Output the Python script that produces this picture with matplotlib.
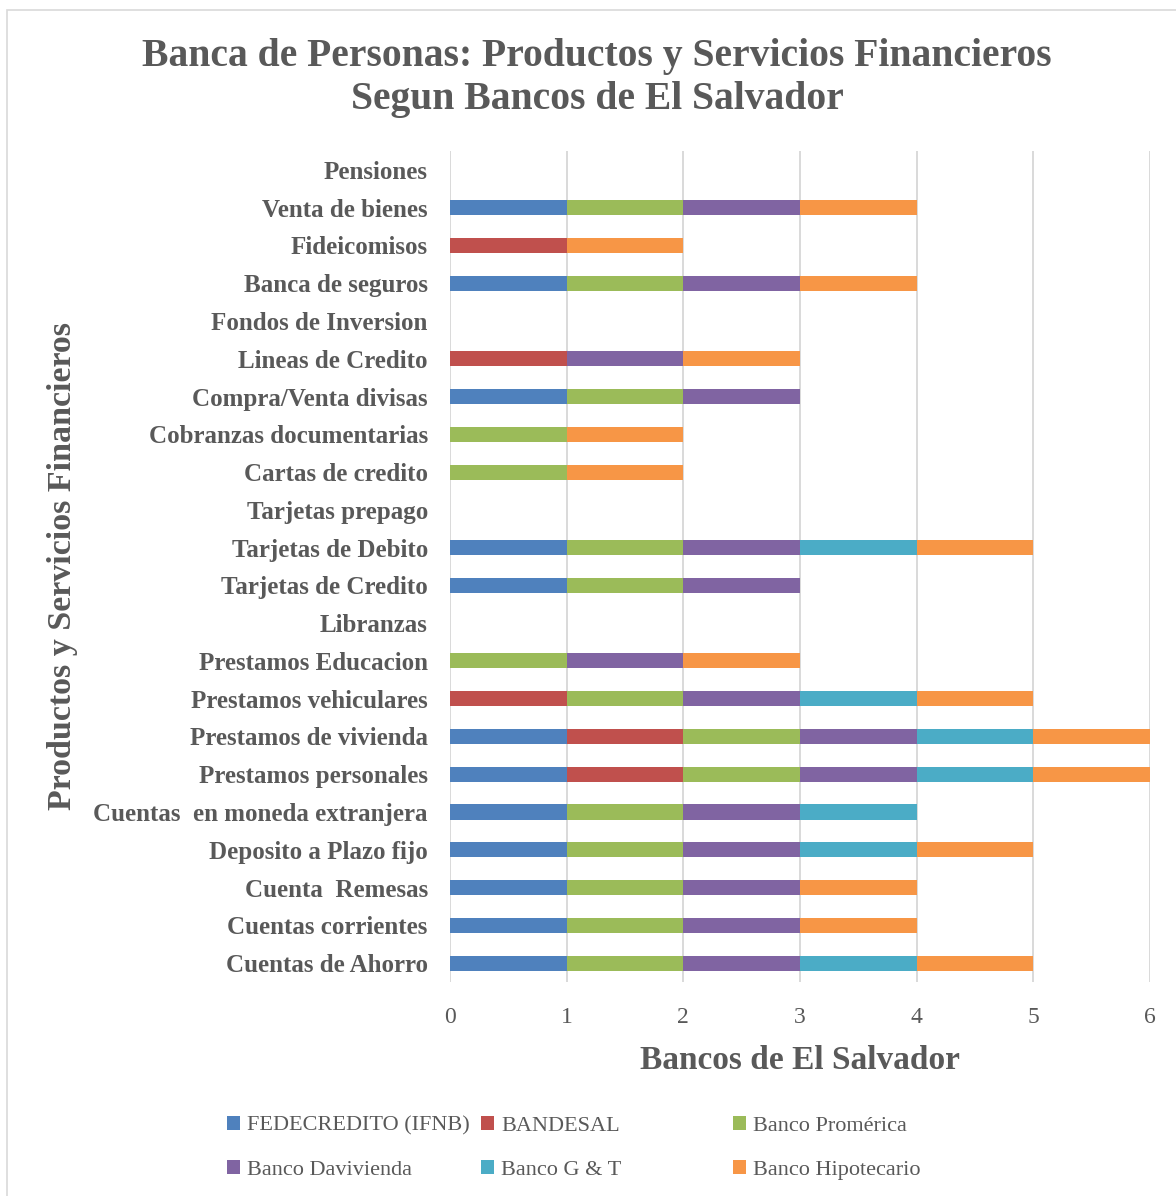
import matplotlib
matplotlib.use("Agg")
import matplotlib.pyplot as plt
from matplotlib.patches import Patch, Rectangle
import numpy as np

plt.rcParams['font.family'] = ['Liberation Serif', 'DejaVu Serif']

categories = [
    "Cuentas de Ahorro", "Cuentas corrientes", "Cuenta  Remesas",
    "Deposito a Plazo fijo", "Cuentas  en moneda extranjera",
    "Prestamos personales", "Prestamos de vivienda", "Prestamos vehiculares",
    "Prestamos Educacion", "Libranzas", "Tarjetas de Credito",
    "Tarjetas de Debito", "Tarjetas prepago", "Cartas de credito",
    "Cobranzas documentarias", "Compra/Venta divisas", "Lineas de Credito",
    "Fondos de Inversion", "Banca de seguros", "Fideicomisos",
    "Venta de bienes", "Pensiones",
]

series_names = ["FEDECREDITO (IFNB)", "BANDESAL", "Banco Promérica",
                "Banco Davivienda", "Banco G & T", "Banco Hipotecario"]
colors = ["#4F81BD", "#C0504D", "#9BBB59", "#8064A2", "#4BACC6", "#F79646"]

fedecredito = [1, 1, 1, 1, 1, 1, 1, 0, 0, 0, 1, 1, 0, 0, 0, 1, 0, 0, 1, 0, 1, 0]
bandesal    = [0, 0, 0, 0, 0, 1, 1, 1, 0, 0, 0, 0, 0, 0, 0, 0, 1, 0, 0, 1, 0, 0]
promerica   = [1, 1, 1, 1, 1, 1, 1, 1, 1, 0, 1, 1, 0, 1, 1, 1, 0, 0, 1, 0, 1, 0]
davivienda  = [1, 1, 1, 1, 1, 1, 1, 1, 1, 0, 1, 1, 0, 0, 0, 1, 1, 0, 1, 0, 1, 0]
gyt         = [1, 0, 0, 1, 1, 1, 1, 1, 0, 0, 0, 1, 0, 0, 0, 0, 0, 0, 0, 0, 0, 0]
hipotecario = [1, 1, 1, 1, 0, 1, 1, 1, 1, 0, 0, 1, 0, 1, 1, 0, 1, 0, 1, 1, 1, 0]

series = [fedecredito, bandesal, promerica, davivienda, gyt, hipotecario]

TXT = "#595959"
W, H = 1176, 1196
fig = plt.figure(figsize=(W / 100, H / 100), dpi=100)

# chart border (top/left visible)
fig.add_artist(Rectangle((7 / W, -0.05), 1.2, 1 - 10 / H + 0.05,
                         transform=fig.transFigure, fill=False,
                         edgecolor="#D9D9D9", linewidth=1.2))

ax = fig.add_axes([450 / W, 1 - 982 / H, 700 / W, 831 / H])
y = np.arange(len(categories))
left = np.zeros(len(categories))
for name, vals, c in zip(series_names, series, colors):
    v = np.array(vals, dtype=float)
    ax.barh(y, v, left=left, height=0.4, color=c, label=name, zorder=3)
    left += v

ax.set_xlim(0, 6)
ax.set_ylim(-0.5, len(categories) - 0.5)
ax.set_xticks(range(0, 7))
ax.set_yticks(y)
ax.set_yticklabels(categories, fontsize=18, fontweight="bold", color=TXT)
ax.tick_params(axis="x", length=0, pad=18, labelsize=17, labelcolor=TXT)
ax.tick_params(axis="y", length=0, pad=16)
for s in ax.spines.values():
    s.set_visible(False)
ax.grid(axis="x", color="#D9D9D9", linewidth=1.4, zorder=0)
ax.set_axisbelow(True)

ax.set_xlabel("Bancos de El Salvador", fontsize=24, fontweight="bold",
              color=TXT, labelpad=12)
fig.text(63 / W, 1 - 566 / H, "Productos y Servicios Financieros",
         rotation=90, ha="center", va="center", fontsize=24.5,
         fontweight="bold", color=TXT)

fig.text(597 / W, 1 - 78 / H,
         "Banca de Personas: Productos y Servicios Financieros\nSegun Bancos de El Salvador",
         ha="center", va="center", fontsize=28.5, fontweight="bold",
         color=TXT, linespacing=1.22)

# legend: three columns with equal widths
col_x = [227, 481, 733]
for j in range(3):
    hs = []
    for k in (j, j + 3):
        hs.append(Patch(facecolor=colors[k], label=series_names[k]))
    leg = fig.legend(handles=hs, loc="upper left",
                     bbox_to_anchor=(col_x[j] / W, 1 - 1116 / H),
                     frameon=False, fontsize=16, handlelength=0.6,
                     handleheight=0.6, handletextpad=0.3, labelspacing=1.1,
                     borderpad=0, borderaxespad=0)
    for t in leg.get_texts():
        t.set_color(TXT)

fig.savefig("out.png", dpi=100, facecolor="white")
